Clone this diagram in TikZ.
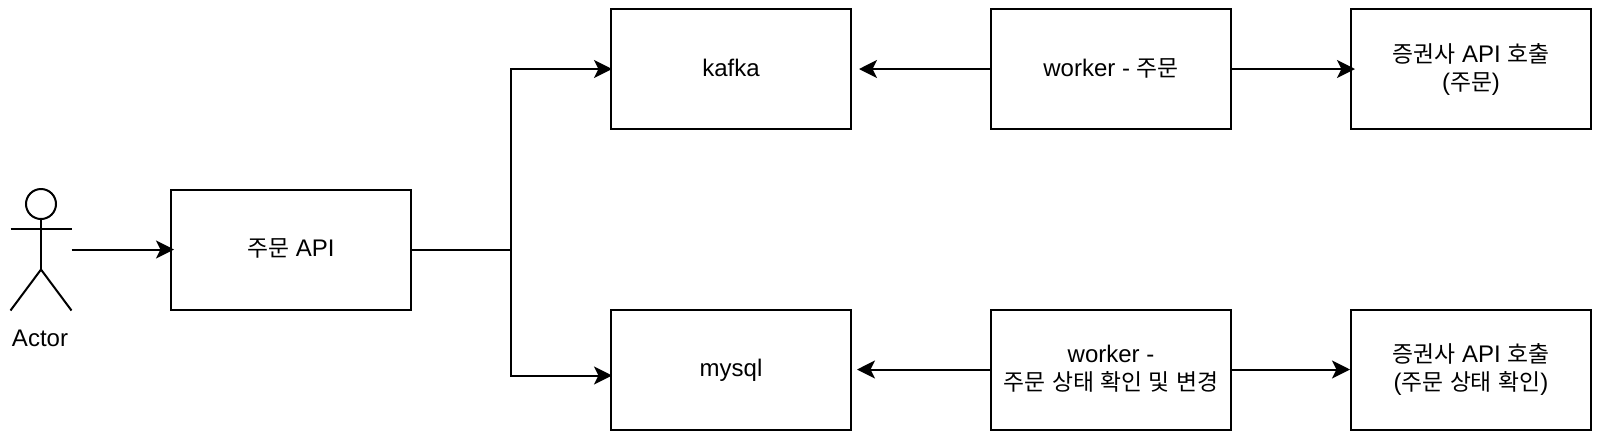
\documentclass[tikz,border=0pt]{standalone}
\usepackage{fontspec}
\setmainfont{Liberation Sans}
\newfontfamily\krfont[Scale=0.95, WordSpace=1.25]{Noto Sans CJK KR}
\newcommand{\kr}[1]{{\krfont #1}}
\usetikzlibrary{arrows.meta}
\begin{document}
\begin{tikzpicture}[
    x=0.5pt, y=-0.5pt,
    line width=1pt,
    font=\fontsize{12}{14}\selectfont,
    box/.style={rectangle, draw, minimum width=120pt, minimum height=60pt, inner sep=0pt, align=center},
    oneline/.style={box, text height=7.4pt, text depth=0pt},
    twolines/.style={box, text height=21.4pt, text depth=0pt},
    arrow/.style={-{Stealth[length=9pt, width=9pt, inset=2.2pt]}}
]
\useasboundingbox (0,0) rectangle (1602,446);

% Acteur
\node[minimum width=29.5pt, minimum height=60pt, inner sep=0pt] (actor) at (41,249.5) {};
\node[oneline, draw=none, minimum width=0pt, minimum height=0pt] (actorlabel) at (40,339.5) {Actor};
\draw (41,204) circle (15);
\draw (41,219) -- (41,269.5);
\draw (actor.west |- 0,229) -- (actor.east |- 0,229);
\draw (actor.south west) -- (41,269.5) -- (actor.south east);

% Boites
\node[oneline] (api) at (291,249.5) {\kr{주문} API};
\node[oneline] (kafka) at (731,69) {kafka};
\node[oneline] (mysql) at (731,369.5) {mysql};
\node[oneline] (workerorder) at (1111,69) {worker - \kr{주문}};
\node[twolines] (workerstatus) at (1111,369.5) {worker -\\\kr{주문 상태 확인 및 변경}};
\node[twolines] (brokerorder) at (1471,69) {\kr{증권사} API \kr{호출}\\(\kr{주문})};
\node[twolines] (brokerstatus) at (1471,369.5) {\kr{증권사} API \kr{호출}\\(\kr{주문 상태 확인})};

% Fleches
\coordinate (trunk) at (511,249.5);
\draw[arrow, shorten >=-2pt] (actor.east |- api.west) -- (api.west);
\draw[arrow, shorten >=-1pt] (api.east) -- (trunk) |- (kafka.west);
\draw[arrow, shorten >=-1pt] (api.east) -- (trunk) |- ([yshift=-3pt]mysql.west);
\draw[arrow, shorten >=3.5pt] (workerorder.west) -- (kafka.east);
\draw[arrow, shorten >=2.5pt] (workerstatus.west) -- (mysql.east);
\draw[arrow, shorten >=-2.5pt] (workerorder.east) -- (brokerorder.west);
\draw[arrow] (workerstatus.east) -- (brokerstatus.west);

\end{tikzpicture}
\end{document}
